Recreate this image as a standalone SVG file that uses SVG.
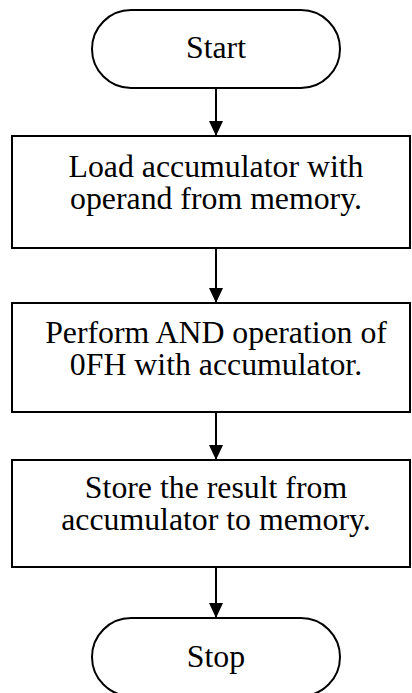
<svg xmlns="http://www.w3.org/2000/svg" width="412" height="693" viewBox="0 0 412 693">
<style>
.shape{fill:#fff;stroke:#000;stroke-width:2}
text{font-family:Liberation Serif,Tinos,Times New Roman,DejaVu Serif,serif;font-size:31.8px;fill:#000;text-anchor:middle}
.conn{stroke:#000;stroke-width:2;fill:none}
</style>
<defs>
<marker id="ah" viewBox="0 0 15 14" refX="15" refY="7" markerWidth="15" markerHeight="14" markerUnits="userSpaceOnUse" orient="auto">
<path d="M0,0 L15,7 L0,14 Z" fill="#000"/>
</marker>
</defs>
<rect width="412" height="693" fill="#fff"/>
<g id="connectors">
<line class="conn" x1="216" y1="88" x2="216" y2="136" marker-end="url(#ah)"/>
<line class="conn" x1="216" y1="248" x2="216" y2="303" marker-end="url(#ah)"/>
<line class="conn" x1="216" y1="412" x2="216" y2="460" marker-end="url(#ah)"/>
<line class="conn" x1="216" y1="567" x2="216" y2="618" marker-end="url(#ah)"/>
</g>
<g id="start">
<rect class="shape" x="92" y="10" width="248" height="78" rx="39" ry="39"/>
<text x="216" y="58">Start</text>
</g>
<g id="load">
<rect class="shape" x="12" y="136" width="398" height="112"/>
<text x="216" y="177">Load accumulator with</text>
<text x="216" y="209">operand from memory.</text>
</g>
<g id="and">
<rect class="shape" x="12" y="303" width="398" height="109"/>
<text x="216" y="343">Perform AND operation of</text>
<text x="216" y="375">0FH with accumulator.</text>
</g>
<g id="store">
<rect class="shape" x="12" y="460" width="398" height="107"/>
<text x="216" y="498">Store the result from</text>
<text x="216" y="530">accumulator to memory.</text>
</g>
<g id="stop">
<rect class="shape" x="92" y="618" width="248" height="78" rx="39" ry="39"/>
<text x="216" y="667">Stop</text>
</g>
</svg>
